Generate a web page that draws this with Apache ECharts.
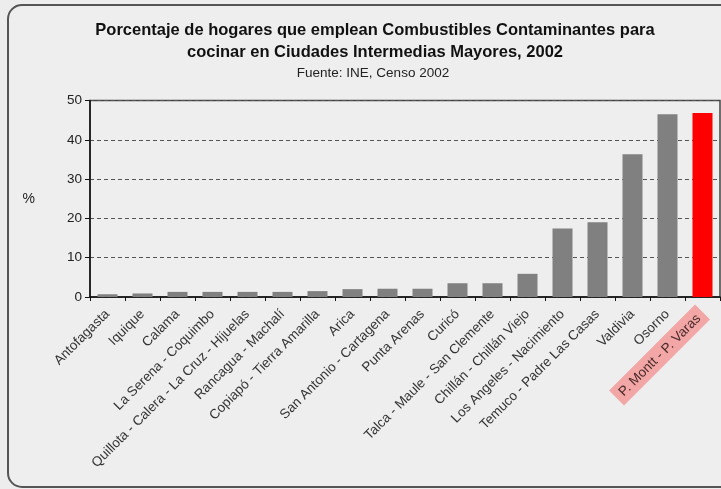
<!DOCTYPE html>
<html>
<head>
<meta charset="utf-8">
<script src="https://cdn.jsdelivr.net/npm/echarts@6/dist/echarts.min.js"></script>
<style>
  html, body { margin: 0; padding: 0; background: #ededed; }
  #chart { width: 721px; height: 489px; }
</style>
</head>
<body>
<div id="chart"></div>
<script>
// datos: Censo 2002
const ciudades = [
  'Antofagasta', 'Iquique', 'Calama', 'La Serena - Coquimbo',
  'Quillota - Calera - La Cruz - Hijuelas', 'Rancagua - Machalí',
  'Copiapó - Tierra Amarilla', 'Arica', 'San Antonio - Cartagena',
  'Punta Arenas', 'Curicó', 'Talca - Maule - San Clemente',
  'Chillán - Chillán Viejo', 'Los Angeles - Nacimiento',
  'Temuco - Padre Las Casas', 'Valdivia', 'Osorno', 'P. Montt - P. Varas'
]
const porcentaje = [0.7, 0.9, 1.3, 1.3, 1.3, 1.3, 1.5, 2.0, 2.1, 2.1, 3.5, 3.5, 5.9, 17.4, 19.0, 36.3, 46.5, 46.8]
const destacada = 'P. Montt - P. Varas'
const yTicks = [0, 10, 20, 30, 40, 50]

const chart = echarts.init(document.getElementById('chart'))

const font = 'Liberation Sans, Arial, sans-serif'

chart.setOption({
  backgroundColor: 'transparent',
  textStyle: { fontFamily: font },
  graphic: [
    {
      type: 'rect',
      silent: true,
      shape: { x: 8, y: 5, width: 760, height: 482, r: 14 },
      style: { fill: '#eeeeee', stroke: '#555', lineWidth: 2 },
      z: -10
    }
  ],
  title: [
    {
      text: 'Porcentaje de hogares que emplean Combustibles Contaminantes para\ncocinar en Ciudades Intermedias Mayores, 2002',
      left: 370,
      textAlign: 'center',
      top: 14,
      textStyle: { fontFamily: font, fontSize: 16.5, fontWeight: 'bold', color: '#111', lineHeight: 22 }
    },
    {
      text: 'Fuente: INE, Censo 2002',
      left: 368,
      textAlign: 'center',
      top: 61,
      textStyle: { fontFamily: font, fontSize: 13.5, fontWeight: 'normal', color: '#222' }
    }
  ],
  grid: {
    left: 90,
    top: 100.5,
    right: 1,
    bottom: 192,
    show: true,
    borderColor: '#444',
    borderWidth: 1.5,
    backgroundColor: 'transparent'
  },
  xAxis: {
    type: 'category',
    data: ciudades,
    axisLine: { lineStyle: { color: '#111', width: 1.5 } },
    axisTick: { show: true, length: 4, lineStyle: { color: '#111' } },
    axisLabel: {
      rotate: 45,
      interval: 0,
      margin: 15,
      fontSize: 13.5,
      color: '#333',
      formatter: (v) => (v === destacada ? '{hl|' + v + '}' : v),
      rich: {
        hl: {
          fontSize: 13.5,
          color: '#4a2a2a',
          backgroundColor: '#f2a6a6',
          padding: [4, 6, 3, 6]
        }
      }
    }
  },
  yAxis: {
    type: 'value',
    min: 0,
    max: 50,
    interval: 10,
    name: '%',
    nameLocation: 'middle',
    nameRotate: 0,
    nameGap: 55,
    nameTextStyle: { fontSize: 14, color: '#222' },
    axisLine: { show: true, lineStyle: { color: '#111', width: 1.5 } },
    axisTick: { show: true, length: 5, lineStyle: { color: '#111' } },
    axisLabel: {
      fontSize: 13.5,
      color: '#222',
      margin: 8,
      formatter: (v) => (yTicks.includes(v) ? String(v) : '')
    },
    splitLine: {
      show: true,
      lineStyle: { color: '#555', type: [4, 3], width: 1 }
    }
  },
  series: [
    {
      type: 'bar',
      barWidth: 20,
      data: porcentaje.map((v, i) => ({
        value: v,
        itemStyle: { color: ciudades[i] === destacada ? '#ff0000' : '#808080' }
      }))
    }
  ]
})

window.addEventListener('resize', () => {
  chart.resize()
})
</script>
</body>
</html>
